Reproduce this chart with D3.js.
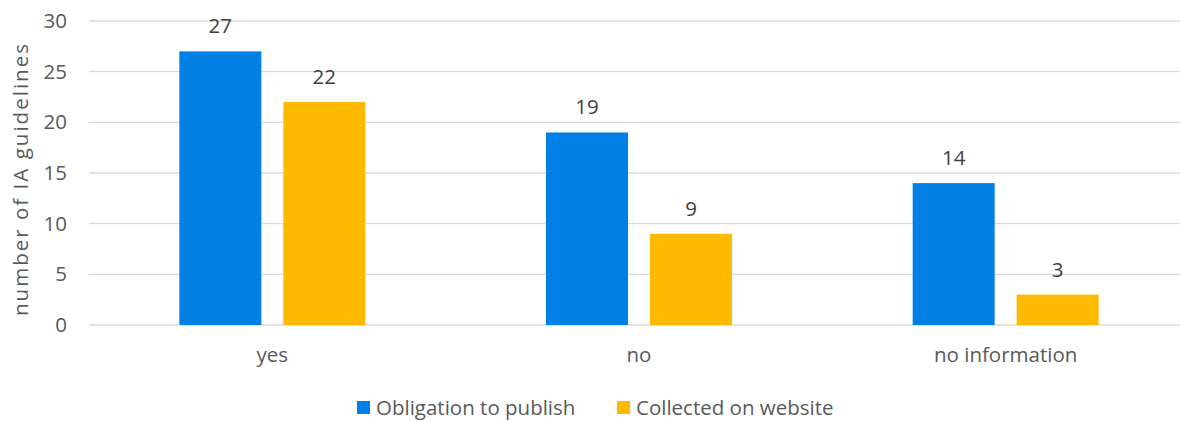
<!DOCTYPE html>
<html>
<head>
<meta charset="utf-8">
<script src="https://cdn.jsdelivr.net/npm/d3@7"></script>
<style>
  body { margin: 0; background: #fff; }
  text { font-family: "Open Sans", sans-serif; }
</style>
</head>
<body>
<svg id="chart" width="1180" height="422"></svg>
<script>
const categories = ['yes', 'no', 'no information'];
const series = ['Obligation to publish', 'Collected on website'];
const obligation = [27, 19, 14];
const collected = [22, 9, 3];
const y_ticks = [0, 5, 10, 15, 20, 25, 30];

const colors = ['#0080e4', '#ffb900'];
const grid_color = '#d9d9d9';
const text_color = '#595959';
const font_size = '20.5px';

const width = 1180, height = 422;
const margin = {left: 89, right: -9, top: 21, bottom: 97};

const svg = d3.select('#chart');

const x0 = d3.scaleBand()
  .domain(categories)
  .range([margin.left, width - margin.right])
  .paddingInner(0)
  .paddingOuter(0);

const bar_w = 82, bar_gap = 22;
const x1 = d3.scaleOrdinal()
  .domain(series)
  .range([-(bar_w + bar_gap / 2), bar_gap / 2]);

const y = d3.scaleLinear()
  .domain([0, 30])
  .range([height - margin.bottom, margin.top]);

// gridlines
svg.append('g')
  .selectAll('line')
  .data(y_ticks)
  .join('line')
  .attr('x1', margin.left)
  .attr('x2', width - margin.right)
  .attr('y1', d => y(d))
  .attr('y2', d => y(d))
  .attr('stroke', grid_color)
  .attr('stroke-width', 1.3);

// y tick labels
const y_axis = d3.axisLeft(y).tickValues(y_ticks).tickSize(0).tickPadding(22);
svg.append('g')
  .attr('transform', `translate(${margin.left},0)`)
  .call(y_axis)
  .call(g => g.select('.domain').remove())
  .call(g => g.selectAll('text')
    .attr('fill', text_color)
    .style('font-size', font_size)
    .style('font-family', '"Open Sans", sans-serif'));

// y axis title
svg.append('text')
  .attr('transform', 'translate(28,180) rotate(-90)')
  .attr('text-anchor', 'middle')
  .attr('fill', text_color)
  .attr('textLength', 272)
  .attr('lengthAdjust', 'spacing')
  .style('font-size', font_size)
  .text('number of IA guidelines');

// bars
const rows = categories.map((c, i) => ({
  cat: c,
  vals: [obligation[i], collected[i]]
}));

const groups = svg.append('g')
  .selectAll('g')
  .data(rows)
  .join('g')
  .attr('transform', d => `translate(${x0(d.cat) + x0.bandwidth() / 2},0)`);

groups.selectAll('rect')
  .data(d => d.vals.map((v, i) => ({s: series[i], v, i})))
  .join('rect')
  .attr('x', d => x1(d.s))
  .attr('width', bar_w)
  .attr('y', d => y(d.v))
  .attr('height', d => y(0) - y(d.v))
  .attr('fill', d => colors[d.i]);

groups.selectAll('text.val')
  .data(d => d.vals.map((v, i) => ({s: series[i], v, i})))
  .join('text')
  .attr('class', 'val')
  .attr('x', d => x1(d.s) + bar_w / 2)
  .attr('y', d => y(d.v) - 18)
  .attr('text-anchor', 'middle')
  .attr('fill', '#404040')
  .style('font-size', font_size)
  .text(d => d.v);

// category labels
svg.append('g')
  .selectAll('text')
  .data(categories)
  .join('text')
  .attr('x', d => x0(d) + x0.bandwidth() / 2)
  .attr('y', 362)
  .attr('text-anchor', 'middle')
  .attr('fill', text_color)
  .style('font-size', font_size)
  .text(d => d);

// legend
const legend_x = [357, 617];
const legend = svg.append('g')
  .selectAll('g')
  .data(series)
  .join('g')
  .attr('transform', (d, i) => `translate(${legend_x[i]},400)`);

legend.append('rect')
  .attr('width', 13)
  .attr('height', 13)
  .attr('y', 1)
  .attr('fill', (d, i) => colors[i]);

legend.append('text')
  .attr('x', 19)
  .attr('y', 15)
  .attr('fill', text_color)
  .style('font-size', font_size)
  .text(d => d);
</script>
</body>
</html>
